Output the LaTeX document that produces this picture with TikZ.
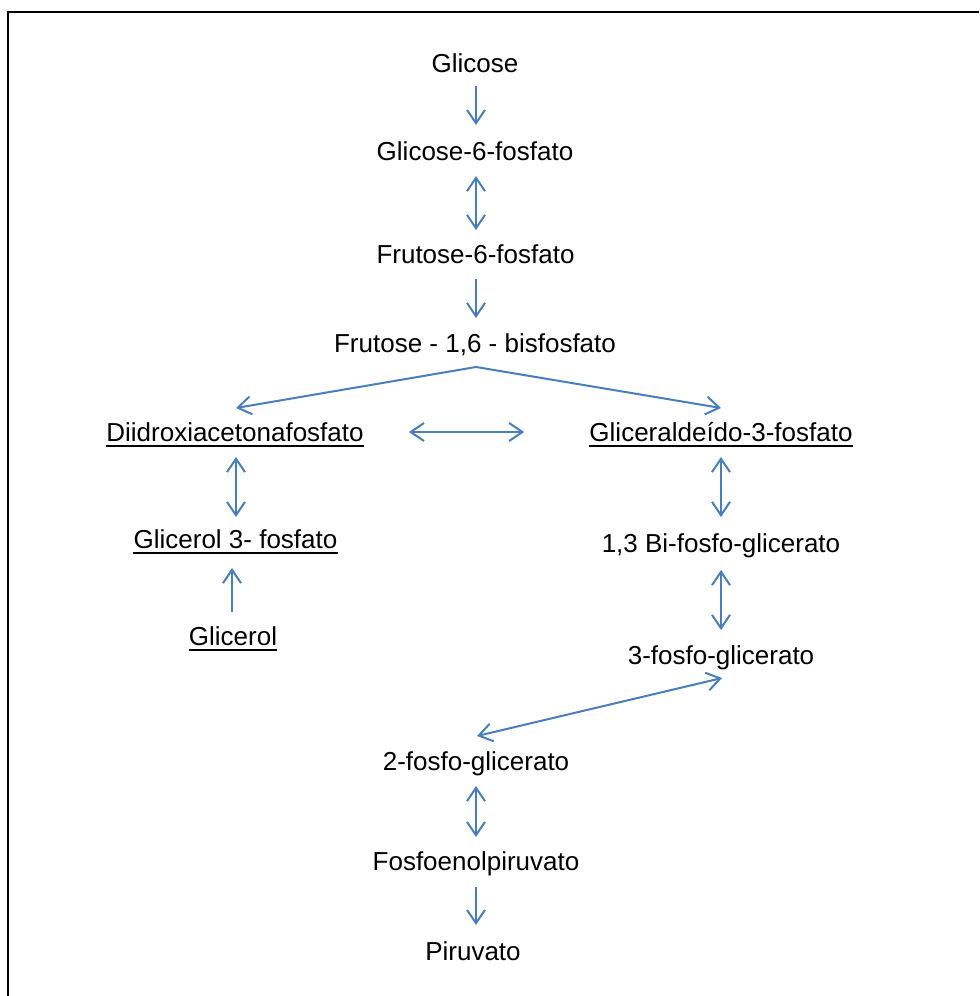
\documentclass[tikz,border=0pt]{standalone}
\usepackage{fontspec}
\setmainfont{Liberation Sans}
\usetikzlibrary{arrows.meta,calc}
\definecolor{arr}{RGB}{74,126,187}
\begin{document}
\begin{tikzpicture}[x=0.75pt,y=-0.75pt,
  lbl/.style={inner sep=0pt, anchor=base, font=\fontsize{19.5pt}{23pt}\selectfont},
  barb/.tip={Straight Barb[length=10pt,width=13.5pt]},
  rx/.style={draw=arr, line width=1.5pt, -barb},
  rxb/.style={draw=arr, line width=1.5pt, barb-barb},
  ul/.style={line width=1.5pt, black}]
\useasboundingbox (0,0) rectangle (979,996);
\draw[line width=1.8pt] (8,996) -- (8,12) -- (979,12);

\node[lbl] (glc)  at (475,72)  {Glicose};
\node[lbl] (g6p)  at (475,160) {Glicose-6-fosfato};
\node[lbl] (f6p)  at (475.5,263) {Frutose-6-fosfato};
\node[lbl] (f16)  at (475,352) {Frutose - 1,6 - bisfosfato};
\node[lbl] (dhap) at (235,441) {Diidroxiacetonafosfato};
\node[lbl] (gap)  at (721,441) {Gliceraldeído-3-fosfato};
\node[lbl] (g3p)  at (235.5,548) {Glicerol 3- fosfato};
\node[lbl] (gly)  at (233,645) {Glicerol};
\node[lbl] (bpg)  at (721,552) {1,3 Bi-fosfo-glicerato};
\node[lbl] (pg3)  at (721,664) {3-fosfo-glicerato};
\node[lbl] (pg2)  at (476,770) {2-fosfo-glicerato};
\node[lbl] (pep)  at (476,870) {Fosfoenolpiruvato};
\node[lbl] (pyr)  at (473,960) {Piruvato};

\foreach \n in {dhap,gap,g3p,gly}
  \draw[ul] ($(\n.base west)+(0,5)$) -- ($(\n.base east)+(0,5)$);

\draw[rx]  ($(glc.base)+(1,14)$) -- ($(g6p.base)+(1,-35)$);
\draw[rxb] ($(g6p.base)+(1,16)$) -- ($(f6p.base)+(0.5,-33)$);
\draw[rx]  ($(f6p.base)+(0.5,16)$) -- ($(f16.base)+(1,-34)$);
\coordinate (apex) at ($(f16.base)+(1,15)$);
\draw[rx]  (apex) -- ($(dhap.base)+(1,-33)$);
\draw[rx]  (apex) -- ($(gap.base)+(0,-33)$);
\draw[rxb] ($(dhap.base east)+(45,-9)$) -- ($(gap.base west)+(-65,-9)$);
\draw[rxb] ($(dhap.base)+(1,16)$) -- ($(g3p.base)+(0.5,-31)$);
\draw[rx]  ($(gly.base)+(-1,-33)$) -- ($(g3p.base)+(-3.5,20)$);
\draw[rxb] ($(gap.base)+(0,16)$) -- ($(bpg.base)+(0,-35)$);
\draw[rxb] ($(bpg.base)+(0,18)$) -- ($(pg3.base)+(0,-34)$);
\draw[rxb] ($(pg3.base)+(1,14)$) -- ($(pg2.base)+(1,-34)$);
\draw[rxb] ($(pg2.base)+(0,16)$) -- ($(pep.base)+(0,-33)$);
\draw[rx]  ($(pep.base)+(0,17)$) -- ($(pyr.base)+(3,-35)$);
\end{tikzpicture}
\end{document}
